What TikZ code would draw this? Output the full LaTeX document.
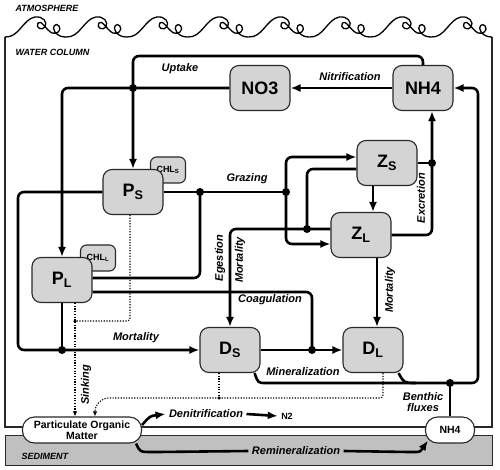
\documentclass[tikz,border=0pt]{standalone}
\usepackage{fontspec}
\setmainfont{Liberation Sans}
\usetikzlibrary{arrows.meta}
\definecolor{boxgray}{RGB}{212,212,212}
\definecolor{sedgray}{RGB}{192,192,192}
\definecolor{edge}{RGB}{40,40,40}
\tikzset{
	box/.style={draw=edge, fill=boxgray, line width=1.1pt, rounded corners=9pt, minimum width=60pt, minimum height=45pt, inner sep=0pt, font=\fontsize{18}{18}\selectfont\bfseries},
	chl/.style={box, rounded corners=6pt, minimum width=35pt, minimum height=26pt, font=\fontsize{9}{9}\selectfont\bfseries},
	pool/.style={draw=edge, fill=white, line width=1.1pt, rounded corners=12pt, minimum height=26pt, inner sep=2pt, align=center, font=\fontsize{10.5}{10.5}\selectfont\bfseries},
	flux/.style={line width=2.6pt, rounded corners=6pt},
	fluxto/.style={flux, -{Latex[length=10pt,width=8pt]}},
	sink/.style={line width=1.1pt, dash pattern=on 1.2pt off 1.5pt, rounded corners=3pt},
	sinkto/.style={sink, -{Latex[length=5pt,width=4.5pt]}},
	lbl/.style={font=\fontsize{11}{11}\selectfont\bfseries\itshape},
	zone/.style={anchor=west, font=\fontsize{9}{9}\selectfont\bfseries\itshape},
	joint/.style={circle, fill, inner sep=0pt, minimum size=8pt},
	smalljoint/.style={circle, fill, inner sep=0pt, minimum size=3.5pt},
	wave/.style={line width=1.3pt, line join=round}
}
\begin{document}
\begin{tikzpicture}[x=1pt,y=-1pt]
	\useasboundingbox (0,0) rectangle (500,470);

	\filldraw[fill=sedgray, draw=edge, line width=0.9pt] (5,435) rectangle (492,465);
	\draw[line width=1.1pt, draw=edge] (492,37) -- (492,427) -- (5,427) -- (5,37);
	\foreach \i in {0,...,7}{
		\pgfmathsetmacro\wx{5+60.875*\i}
		\draw[wave] (\wx,37) .. controls (\wx+14,38) and (\wx+18,19) .. (\wx+30,17)
			.. controls (\wx+38,16) and (\wx+43,22) .. (\wx+40,27)
			.. controls (\wx+37,31) and (\wx+30,28) .. (\wx+33,23)
			.. controls (\wx+36,19) and (\wx+41,30) .. (\wx+47,33)
			.. controls (\wx+52,35) and (\wx+57,30) .. (\wx+54,26)
			.. controls (\wx+51,22) and (\wx+46,27) .. (\wx+50,32)
			.. controls (\wx+53,36) and (\wx+57,37) .. (\wx+60.875,37);
	}
	\node[zone] (atm) at (12,8) {ATMOSPHERE};
	\node[zone] (wat) at (12,52) {WATER COLUMN};
	\node[zone] (sed) at (18,456) {SEDIMENT};

	\node[box] (no3) at (260,88) {NO3};
	\node[box] (nh4) at (423,88) {NH4};
	\node[chl] (chls) at (168,170) {CHL\textsubscript{S}};
	\node[box] (ps) at (133,192) {P\textsubscript{S}};
	\node[chl] (chll) at (98,258) {CHL\textsubscript{L}};
	\node[box] (pl) at (62,280) {P\textsubscript{L}};
	\node[box] (zs) at (387,163) {Z\textsubscript{S}};
	\node[box] (zl) at (361,235) {Z\textsubscript{L}};
	\node[box] (ds) at (230,350) {D\textsubscript{S}};
	\node[box] (dl) at (373,350) {D\textsubscript{L}};
	\node[pool, minimum width=119pt] (pom) at (82,430) {Particulate Organic\\Matter};
	\node[pool, minimum width=49pt] (nhsed) at (450,430) {NH4};

	\coordinate (top) at (0,56);
	\draw[fluxto] (nh4.north) |- (ps.north |- top) -- (ps.north);
	\draw[fluxto] (no3.west) -| (pl.north);
	\node[joint] (jup) at (ps.north |- no3.west) {};
	\draw[fluxto] (nh4) -- (no3);

	\coordinate (gz) at (286,192);
	\coordinate (gp) at (200,192);
	\draw[flux] (ps.east) -- (gz);
	\draw[fluxto] (gz) |- ([yshift=6pt]zs.west);
	\draw[fluxto] (gz) |- ([yshift=-9pt]zl.west);
	\draw[flux] ([yshift=2pt]pl.east) -| (gp);
	\node[joint] (jgp) at (gp) {};
	\node[joint] (jgz) at (gz) {};

	\coordinate (em) at (307,229);
	\draw[flux] ([yshift=-6pt]zs.west) -| (em);
	\draw[fluxto] ([yshift=6pt]zl.west) -| (ds.north);
	\node[joint] (jem) at (em) {};

	\coordinate (cg) at (312,350);
	\draw[flux] ([yshift=-12pt]pl.east) -| (cg);
	\draw[fluxto] (ds.east) -- (dl.west);
	\node[joint] (jcg) at (cg) {};

	\draw[fluxto] ([xshift=-14pt]zs.south) -- ([xshift=12pt]zl.north);
	\coordinate (ex) at (432,163);
	\draw[flux] (zs.east) -- (ex);
	\draw[fluxto] (zl.east) -| (ex) -- (ex |- nh4.south);
	\node[joint] (jex) at (ex) {};
	\draw[fluxto] ([xshift=16pt]zl.south) -- ([xshift=4pt]dl.north);

	\coordinate (wl) at (18,350);
	\coordinate (pm) at (62,350);
	\draw[fluxto] (ps.west) -| (wl) -- (ds.west);
	\draw[flux] (pl.south) -- (pm);
	\node[joint] (jpm) at (pm) {};

	\coordinate (mr) at (478,383);
	\coordinate (bf) at (450,383);
	\draw[fluxto] ([xshift=-6pt]ds.south east) .. controls (258,383) .. (272,383) -- (mr) |- (nh4.east);
	\draw[flux] ([xshift=-5pt]dl.south east) .. controls (404,383) .. (416,383);
	\draw[flux] (nhsed) -- (bf);
	\node[joint] (jbf) at (bf) {};

	\coordinate (sk) at (75,321);
	\draw[sink] ([xshift=-3pt]ps.south) |- (sk);
	\draw[sinkto] ([xshift=13pt]pl.south) -- (sk |- pom.north);
	\node[smalljoint] (jsk) at (sk) {};
	\coordinate (dd) at (219,398);
	\draw[sink] ([xshift=10pt]dl.south) |- (dd);
	\draw[sink] ([xshift=-11pt]ds.south) -- (dd);
	\draw[sinkto, rounded corners=14pt] (dd) -| ([xshift=13pt]pom.north);
	\node[smalljoint] (jdd) at (dd) {};

	\node[lbl] (den) at (206,414) {Denitrification};
	\node[font=\fontsize{9}{9}\selectfont\bfseries] (n2) at (287,416) {N2};
	\draw[fluxto] ([yshift=5pt]pom.east) .. controls (150,416) .. (den.west);
	\draw[fluxto] (den.east) -- (n2.west);
	\node[lbl] (rem) at (296,451) {Remineralization};
	\draw[flux] ([xshift=-6pt]pom.south east) .. controls (140,452) .. (158,452) -- (rem.west);
	\draw[fluxto] (rem.east) -- (408,452) .. controls (420,452) .. ([shift={(3pt,3pt)}]nhsed.south west);

	\node[lbl] (lup) at (180,69) {Uptake};
	\node[lbl] (lnit) at (350,77) {Nitrification};
	\node[lbl] (lgraz) at (247,179) {Grazing};
	\node[lbl, rotate=90] (legest) at (220,258) {Egestion};
	\node[lbl, rotate=90] (lmortz) at (240,260) {Mortality};
	\node[lbl] (lcoag) at (270,300) {Coagulation};
	\node[lbl, rotate=90] (lexc) at (421,198) {Excretion};
	\node[lbl, rotate=90] (lmortl) at (390,290) {Mortality};
	\node[lbl] (lmortp) at (136,338) {Mortality};
	\node[lbl, rotate=90] (lsink) at (86,385) {Sinking};
	\node[lbl] (lmin) at (303,372) {Mineralization};
	\node[lbl, align=center] (lbent) at (423,402) {Benthic\\fluxes};
\end{tikzpicture}
\end{document}
